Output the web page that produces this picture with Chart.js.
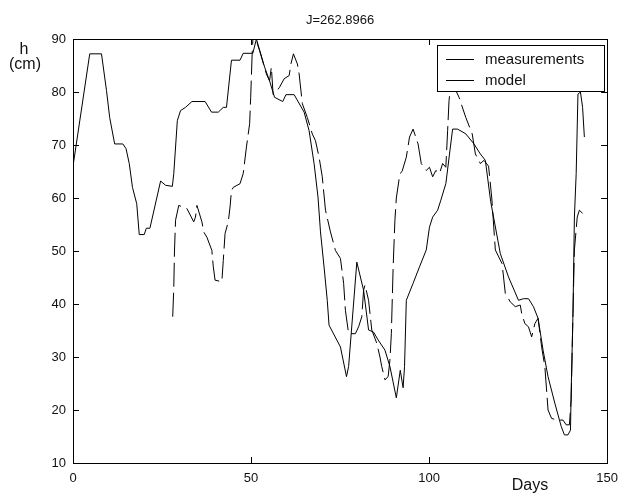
<!DOCTYPE html>
<html>
<head>
<meta charset="utf-8">
<title>J=262.8966</title>
<script src="https://cdn.jsdelivr.net/npm/chart.js@4.4.1/dist/chart.umd.min.js"></script>
<style>
  body { margin: 0; background: #fff; }
  canvas { display: block; }
</style>
</head>
<body>
<canvas id="chart" width="626" height="495"></canvas>
<script>
// values
const measDays = [0, 4.7, 8, 9.4, 10.3, 11.7, 14, 14.9, 15.8, 16.7, 17.9, 18.6, 20, 20.6, 21.6, 24.6, 26, 27.9, 28.3, 29.3,
  30.2, 31.6, 33.4, 37.1, 38.9, 40.8, 42.2, 43.1, 44.5, 46.9, 47.8, 50.5, 51.5, 53.8, 55.2, 56.6, 58.9, 59.8, 62.1, 64.9,
  66.3, 67.7, 68.8, 69.5, 70.5, 71.4, 71.9, 75.1, 76.8, 77.4, 79.7, 81.6, 83, 84.4, 85.7, 87.6, 89, 90.8, 91.9, 92.7,
  93.1, 93.6, 95.5, 97.3, 99.2, 100.1, 101, 102.4, 103.3, 104.7, 106.6, 108, 110.3, 112.6, 114.4, 115.8, 117.3, 120, 122.3, 125.1,
  126.5, 127.9, 129.3, 130.6, 132, 133.4, 135.3, 137.1, 138, 139, 139.7, 139.9, 140.4, 140.8, 141.3, 141.8, 142.5, 143.1, 143.6];
const measValues = [66, 87.2, 87.2, 80.3, 75.2, 70.2, 70.2, 69.3, 66.5, 62, 58.9, 53.1, 53.1, 54.3, 54.3, 63.2, 62.4, 62.2, 64.6, 74.6,
  76.5, 77.1, 78.2, 78.2, 76.2, 76.2, 77.1, 77.1, 86, 86, 87.3, 87.3, 90, 84.7, 82.1, 79, 78.2, 79.5, 79.5, 76.2,
  72.7, 66.5, 60.2, 53.6, 47, 40.7, 36, 31.9, 26.3, 28.2, 47.9, 42.6, 35.1, 34.7, 33.2, 31.3, 28.2, 22.3, 27.5, 24.2,
  28.2, 40.7, 43.9, 47, 50.2, 54.5, 56.4, 57.7, 59.6, 62.7, 73, 73, 72.1, 70.2, 68.3, 67.1, 59.3, 49.5, 45.1, 40.7,
  41, 41, 39.5, 37.3, 31.3, 26.3, 21.3, 16.9, 15.3, 15.3, 16.2, 23.8, 38.2, 56.4, 64.6, 79.6, 80, 77.1, 71.5];

const modelDays = [28, 28.3, 28.5, 28.8, 29.7, 32, 33.9, 34.4, 34.8, 36.2, 36.7, 37.6, 39, 39.4, 39.9, 41.8, 42.2, 42.7, 43.6, 44.1,
  44.5, 45, 46.9, 47.8, 48.7, 49.6, 49.9, 50.3, 50.6, 51.2, 51.8, 52.4, 54.3, 55.2, 55.7, 56.2, 57, 58, 59.3, 60.7,
  61.2, 61.9, 63, 63.5, 64.4, 65.8, 67.2, 68.1, 69.1, 70, 70.9, 72.3, 73.7, 75.1, 76, 76.5, 77.4, 79.3, 80.2, 81.1,
  81.6, 82, 83, 83.9, 85.3, 86.2, 86.7, 87.6, 88.5, 89, 89.4, 89.9, 90.4, 90.8, 91.8, 92.4, 93.6, 94.5, 95.5, 96.9,
  97.8, 99.2, 100.1, 101, 101.9, 102.9, 103.8, 104.7, 105.2, 105.6, 106.1, 107, 108.4, 110.3, 112.1, 113, 114.4, 115.4, 116.7, 117.6,
  118.6, 120.5, 121.4, 122.8, 124.2, 125.6, 126, 126.9, 127.9, 128.8, 129.7, 130.6, 131.6, 132.5, 133.4, 134.4, 136.2, 137.6, 138.5, 139.4,
  139.9, 140.4, 140.8, 141.6, 142.2, 143.1];
const modelValues = [37.6, 43, 50, 55.8, 58.6, 58, 55.5, 56.4, 58.6, 55.5, 53.6, 52.6, 50.1, 47, 44.5, 44.2, 48.2, 53.3, 55.5, 58.3,
  61.4, 62, 62.7, 64.6, 69.6, 74, 79, 87, 91, 92, 89, 87.8, 83.4, 82.1, 84.7, 79.5, 80, 80.9, 82.5, 83.1,
  85.3, 87.2, 85.3, 83.4, 77.8, 75.2, 72.1, 70.8, 67.7, 64, 57.7, 53.6, 50.1, 48.6, 43.9, 38.8, 34.4, 34.4, 35.7, 37.6,
  42.6, 43.6, 40.7, 35.1, 32.6, 30, 28.2, 25.7, 26.3, 29.4, 34.4, 47, 55.8, 60, 64.6, 65, 67.7, 71.5, 73, 70.2,
  66.5, 65.2, 65.8, 64, 65.2, 64.6, 66.5, 65.8, 72.7, 78.4, 81.5, 81, 79, 75.2, 72.1, 68.3, 66.5, 67.1, 66, 60,
  50.2, 47.6, 42, 40.4, 39.5, 39.8, 38.2, 36.3, 35.7, 33.8, 36.3, 37.3, 31.9, 28.2, 20, 18.4, 18.1, 18.1, 17.2, 17.2,
  22, 38.2, 50.2, 56.4, 57.7, 57.1];

const xTicks = [0, 50, 100, 150];
const yTicks = [10, 20, 30, 40, 50, 60, 70, 80, 90];
const titleText = "J=262.8966";

const FONT = "'Liberation Sans', Arial, sans-serif";

function toPoints(xs, ys) {
    return xs.map((x, i) => ({ x: x, y: ys[i] }));
}

// frame, inward ticks, texts and legend, MATLAB style
const decorPlugin = {
    id: 'decor',
    afterDraw(chart) {
        const ctx = chart.ctx;
        const a = chart.chartArea;
        const xs = chart.scales.x, ys = chart.scales.y;
        ctx.save();
        ctx.strokeStyle = '#000';
        ctx.lineWidth = 1;
        ctx.strokeRect(Math.round(a.left) + 0.5, Math.round(a.top) + 0.5,
            Math.round(a.right - a.left), Math.round(a.bottom - a.top));

        ctx.beginPath();
        xTicks.forEach(v => {
            const px = Math.round(xs.getPixelForValue(v)) + 0.5;
            ctx.moveTo(px, a.bottom); ctx.lineTo(px, a.bottom - 6);
            ctx.moveTo(px, a.top); ctx.lineTo(px, a.top + 6);
        });
        yTicks.forEach(v => {
            const py = Math.round(ys.getPixelForValue(v)) + 0.5;
            ctx.moveTo(a.left, py); ctx.lineTo(a.left + 6, py);
            ctx.moveTo(a.right, py); ctx.lineTo(a.right - 6, py);
        });
        ctx.stroke();

        ctx.fillStyle = '#111';
        ctx.textAlign = 'center';
        ctx.textBaseline = 'alphabetic';
        ctx.font = "13px " + FONT;
        ctx.fillText(titleText, (a.left + a.right) / 2, 24);
        ctx.font = "16px " + FONT;
        ctx.fillText("h", 24, 54);
        ctx.fillText("(cm)", 25, 69);
        ctx.fillText("Days", 530, 490);

        // legend box (sample lines look solid in the reference)
        const lx = 437, ly = 45, lw = 167, lh = 46;
        ctx.fillStyle = '#fff';
        ctx.fillRect(lx, ly, lw, lh);
        ctx.strokeRect(lx + 0.5, ly + 0.5, lw, lh);
        ctx.font = "15px " + FONT;
        ctx.textAlign = 'left';
        ctx.textBaseline = 'middle';
        chart.data.datasets.forEach((ds, i) => {
            const yy = Math.round(ly + 14 + i * 21) + 0.5;
            ctx.beginPath();
            ctx.strokeStyle = ds.borderColor;
            ctx.moveTo(446, yy); ctx.lineTo(474, yy);
            ctx.stroke();
            ctx.fillStyle = '#111';
            ctx.fillText(ds.label, 485, yy);
        });
        ctx.restore();
    }
};

new Chart(document.getElementById('chart'), {
    type: 'line',
    data: {
        datasets: [{
            label: 'measurements',
            data: toPoints(measDays, measValues),
            borderColor: '#000',
            borderWidth: 1,
            pointRadius: 0,
            tension: 0,
            clip: 0
        }, {
            label: 'model',
            data: toPoints(modelDays, modelValues),
            borderColor: '#000',
            borderWidth: 1,
            borderDash: [24, 6],
            pointRadius: 0,
            tension: 0,
            clip: 0
        }]
    },
    options: {
        responsive: false,
        animation: false,
        devicePixelRatio: 1,
        layout: { padding: { top: 39, right: 13, left: 0, bottom: 0 } },
        plugins: {
            legend: { display: false },
            title: { display: false },
            tooltip: { enabled: false }
        },
        scales: {
            x: {
                type: 'linear',
                min: 0, max: 150,
                afterBuildTicks: s => { s.ticks = xTicks.map(v => ({ value: v })); },
                afterFit: s => { s.height = 32; },
                grid: { display: false, drawTicks: false },
                border: { display: false },
                ticks: { color: '#111', padding: 8, maxRotation: 0, font: { size: 13, family: FONT } }
            },
            y: {
                min: 10, max: 90,
                afterBuildTicks: s => { s.ticks = yTicks.map(v => ({ value: v })); },
                afterFit: s => { s.width = 73; },
                grid: { display: false, drawTicks: false },
                border: { display: false },
                ticks: { color: '#111', padding: 7, font: { size: 13, family: FONT } }
            }
        }
    },
    plugins: [decorPlugin]
});
</script>
</body>
</html>
